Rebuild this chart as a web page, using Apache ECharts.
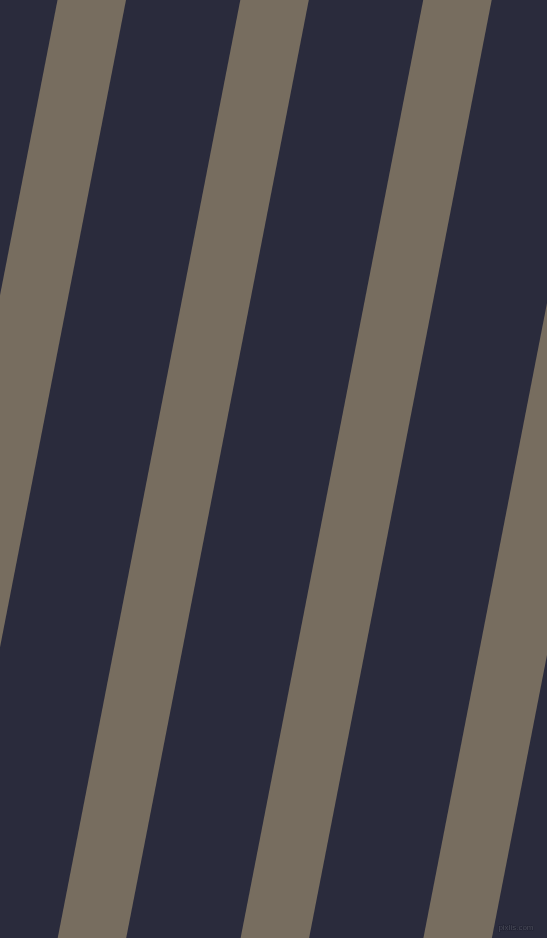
<!DOCTYPE html>
<html>
<head>
<meta charset="utf-8">
<style>
html,body{margin:0;padding:0;background:#2a2b3c;}
#chart{width:547px;height:938px;}
</style>
<script src="https://cdn.jsdelivr.net/npm/echarts@6/dist/echarts.min.js"></script>
</head>
<body>
<div id="chart"></div>
<script>
// Stripe left edges measured along the top edge (px in picture units)
const stripeTopX = [57.5, 240.3, 423.2, 606.0];
// Horizontal width of each stripe
const stripeWidth = [68.5, 68.5, 68.5, 68.5];
// Horizontal drift of a stripe from top (y=0) to bottom (y=938)
const stripeDrift = [182.6, 182.6, 182.6, 182.6];
const canvasW = 547, canvasH = 938;

const chart = echarts.init(document.getElementById('chart'), null, {renderer: 'canvas'});
const data = stripeTopX.map((x, i) => [x, stripeWidth[i], stripeDrift[i]]);

chart.setOption({
  backgroundColor: '#2a2b3c',
  animation: false,
  grid: {left: 0, right: 0, top: 0, bottom: 0},
  xAxis: {type: 'value', min: 0, max: canvasW, show: false},
  yAxis: {type: 'value', min: 0, max: canvasH, inverse: true, show: false},
  graphic: [{
    type: 'text', right: 13, bottom: 6,
    style: {text: 'pixlis.com', fill: '#4b4c5a', stroke: '#1f2030', lineWidth: 1, font: '8px "Liberation Sans"'}
  }],
  series: [{
    type: 'custom',
    clip: true,
    data: data,
    renderItem: function (params, api) {
      const x = api.value(0), w = api.value(1), d = api.value(2);
      const pts = [
        api.coord([x, 0]),
        api.coord([x + w, 0]),
        api.coord([x + w - d, canvasH]),
        api.coord([x - d, canvasH])
      ];
      return {
        type: 'polygon',
        shape: {points: pts},
        style: {fill: '#776d5f'}
      };
    }
  }]
});
</script>
</body>
</html>
